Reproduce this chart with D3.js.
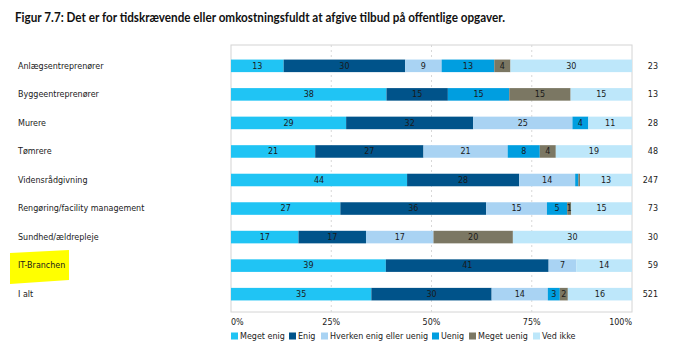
<!DOCTYPE html>
<html>
<head>
<meta charset="utf-8">
<script src="https://cdn.jsdelivr.net/npm/d3@7"></script>
<style>
    body { margin: 0; background: #fff; }
    svg { display: block; }
</style>
</head>
<body>
<div id="chart"></div>
<script>
// data
const categories = ["Anlægsentreprenører", "Byggeentreprenører", "Murere", "Tømrere", "Vidensrådgivning",
    "Rengøring/facility management", "Sundhed/ældrepleje", "IT-Branchen", "I alt"];
const answers = ["Meget enig", "Enig", "Hverken enig eller uenig", "Uenig", "Meget uenig", "Ved ikke"];
const megetEnig = [13, 38, 29, 21, 44, 27, 17, 39, 35];
const enig = [30, 15, 32, 27, 28, 36, 17, 41, 30];
const hverken = [9, 0, 25, 21, 14, 15, 17, 7, 14];
const uenig = [13, 15, 4, 8, 0.8, 5, 0, 0, 3];
const megetUenig = [4, 15, 0, 4, 0.4, 1, 20, 0, 2];
const vedIkke = [30, 15, 11, 19, 13, 15, 30, 14, 16];
const nValues = [23, 13, 28, 48, 247, 73, 30, 59, 521];
const tickLabels = ["0%", "25%", "50%", "75%", "100%"];

const colors = ["#20c4f4", "#00538a", "#a9d3f3", "#009ee0", "#7b7763", "#bde7fa"];

const width = 677, height = 351;
const margin = {left: 231, right: 45, top: 45, bottom: 39};
const fs = 8;

const svg = d3.select("#chart").append("svg")
    .attr("width", width)
    .attr("height", height)
    .style("font-family", "'DejaVu Sans', Verdana, sans-serif");

// title
svg.append("text")
    .attr("x", 15)
    .attr("y", 22)
    .attr("font-family", "Lato, 'Open Sans', sans-serif")
    .attr("font-weight", "bold")
    .attr("font-size", 13)
    .attr("textLength", 490)
    .attr("lengthAdjust", "spacingAndGlyphs")
    .attr("fill", "#111")
    .text("Figur 7.7: Det er for tidskrævende eller omkostningsfuldt at afgive tilbud på offentlige opgaver.");

const rows = categories.map((c, i) => ({
    cat: c,
    "Meget enig": megetEnig[i],
    "Enig": enig[i],
    "Hverken enig eller uenig": hverken[i],
    "Uenig": uenig[i],
    "Meget uenig": megetUenig[i],
    "Ved ikke": vedIkke[i]
}));

const x = d3.scaleLinear().domain([0, 1]).range([margin.left, width - margin.right]);
const y = d3.scaleBand().domain(categories)
    .range([margin.top + 6, height - margin.bottom - 3])
    .paddingInner(0.56).paddingOuter(0.3);
const color = d3.scaleOrdinal().domain(answers).range(colors);

// plot box
svg.append("rect")
    .attr("x", x(0))
    .attr("y", margin.top)
    .attr("width", x(1) - x(0))
    .attr("height", height - margin.bottom - margin.top)
    .attr("fill", "#fff")
    .attr("stroke", "#d4d4d4")
    .attr("stroke-width", 1);

// grid lines
svg.append("g")
    .selectAll("line")
    .data([0.25, 0.5, 0.75])
    .join("line")
    .attr("x1", d => x(d))
    .attr("x2", d => x(d))
    .attr("y1", margin.top)
    .attr("y2", height - margin.bottom)
    .attr("stroke", "#d8d8d8")
    .attr("stroke-dasharray", "2,3");

const stack = d3.stack().keys(answers).offset(d3.stackOffsetExpand);
const series = stack(rows);

const layers = svg.append("g")
    .selectAll("g")
    .data(series)
    .join("g")
    .attr("fill", d => color(d.key));

layers.selectAll("rect")
    .data(d => d.map(p => ({p: p, key: d.key})))
    .join("rect")
    .attr("x", d => x(d.p[0]))
    .attr("y", d => y(d.p.data.cat))
    .attr("width", d => x(d.p[1]) - x(d.p[0]))
    .attr("height", y.bandwidth());

// value labels
layers.selectAll("text")
    .data(d => d.map(p => ({p: p, key: d.key})).filter(d => d.p.data[d.key] >= 1))
    .join("text")
    .attr("x", d => (x(d.p[0]) + x(d.p[1])) / 2)
    .attr("y", d => y(d.p.data.cat) + y.bandwidth() / 2)
    .attr("dy", "0.35em")
    .attr("text-anchor", "middle")
    .attr("font-size", fs)
    .attr("fill", "#1a1a1a")
    .text(d => d.p.data[d.key]);

// yellow highlight behind IT-Branchen
svg.insert("path", ":first-child")
    .attr("d", "M10,253 L69,250 L69,280 L10,284 Z")
    .attr("fill", "#ffff00");

// category labels
svg.append("g")
    .selectAll("text")
    .data(categories)
    .join("text")
    .attr("x", 18)
    .attr("y", d => y(d) + y.bandwidth() / 2)
    .attr("dy", "0.35em")
    .attr("font-size", fs)
    .attr("fill", "#1a1a1a")
    .text(d => d);

// n values on the right
svg.append("g")
    .selectAll("text")
    .data(nValues)
    .join("text")
    .attr("x", 658)
    .attr("y", (d, i) => y(categories[i]) + y.bandwidth() / 2)
    .attr("dy", "0.35em")
    .attr("text-anchor", "end")
    .attr("font-size", fs)
    .attr("fill", "#1a1a1a")
    .text(d => d);

// x tick labels
const tickScale = d3.scaleLinear().domain([0, tickLabels.length - 1]).range([x(0), x(1)]);
svg.append("g")
    .selectAll("text")
    .data(tickLabels)
    .join("text")
    .attr("x", (d, i) => tickScale(i))
    .attr("y", 322)
    .attr("dy", "0.35em")
    .attr("text-anchor", (d, i) => i === 0 ? "start" : (i === tickLabels.length - 1 ? "end" : "middle"))
    .attr("font-size", fs)
    .attr("fill", "#1a1a1a")
    .text(d => d);

// legend
const legendX = [231, 289, 321, 432, 469, 533];
const legend = svg.append("g")
    .selectAll("g")
    .data(answers)
    .join("g")
    .attr("transform", (d, i) => "translate(" + legendX[i] + ",336)");

legend.append("rect")
    .attr("x", 0)
    .attr("y", -3.5)
    .attr("width", 7)
    .attr("height", 7)
    .attr("fill", d => color(d));

legend.append("text")
    .attr("x", 9)
    .attr("y", 0)
    .attr("dy", "0.35em")
    .attr("font-size", fs)
    .attr("fill", "#1a1a1a")
    .text(d => d);
</script>
</body>
</html>
